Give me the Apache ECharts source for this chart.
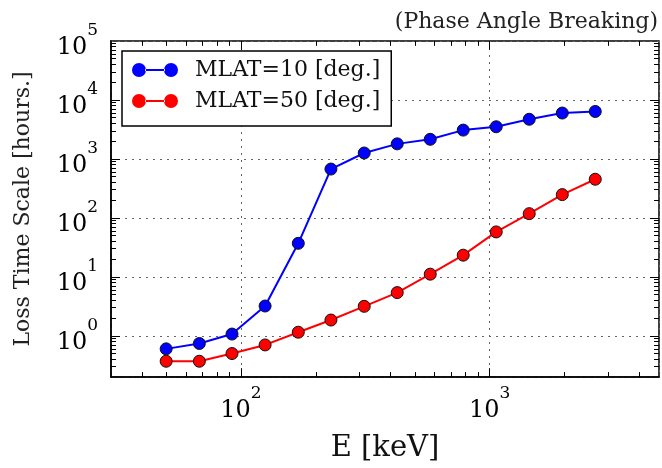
<!DOCTYPE html>
<html><head><meta charset="utf-8">
<script src="https://cdn.jsdelivr.net/npm/echarts@6/dist/echarts.min.js"></script>
<style>html,body{margin:0;padding:0;background:#fff}#c{width:662px;height:468px}</style>
</head><body><div id="c"></div>
<script>
// ---- data ----
const energies = [50, 68, 92, 125, 170, 230, 313, 425, 577, 783, 1063, 1443, 1960, 2660];
const mlat10 = [0.60, 0.74, 1.07, 3.2, 37, 673, 1260, 1800, 2150, 3080, 3510, 4700, 6000, 6380];
const mlat50 = [0.37, 0.37, 0.50, 0.70, 1.15, 1.85, 3.16, 5.4, 11.1, 23.3, 57.8, 118, 248, 452];
const seriesNames = ['MLAT=10 [deg.]', 'MLAT=50 [deg.]'];
const xMajorTicks = [100, 1000];
const yMajorTicks = [1, 10, 100, 1000, 10000];
const xMinorTicks = [40, 50, 60, 70, 80, 90, 200, 300, 400, 500, 600, 700, 800, 900, 2000, 3000, 4000];
const yMinorTicks = [0.3, 0.4, 0.5, 0.6, 0.7, 0.8, 0.9,
  2, 3, 4, 5, 6, 7, 8, 9, 20, 30, 40, 50, 60, 70, 80, 90,
  200, 300, 400, 500, 600, 700, 800, 900, 2000, 3000, 4000, 5000, 6000, 7000, 8000, 9000,
  20000, 30000, 40000, 50000, 60000, 70000, 80000, 90000];
const titleText = '(Phase Angle Breaking)';
const xName = 'E [keV]';
const yName = 'Loss Time Scale [hours.]';
const X_MIN = 30, X_MAX = 4800, Y_MIN = 0.2, Y_MAX = 100000;

const FONT = 'DejaVu Serif';
const chart = echarts.init(document.getElementById('c'), null, {renderer: 'canvas'});

function powLabel(v) {
  const e = Math.round(Math.log10(v));
  if (Math.abs(v - Math.pow(10, e)) > 1e-6 * v) return '';
  return '{b|10}{s|' + e + '}';
}
const richPow = {
  b: {fontFamily: FONT, fontSize: 24, color: '#000', lineHeight: 38, verticalAlign: 'bottom'},
  s: {fontFamily: FONT, fontSize: 17, color: '#000', lineHeight: 24, verticalAlign: 'top'}
};

// tick marks: short markLine segments on the frame edges (inside, all four sides).
// On log axes a constant ratio gives a constant pixel length.
const PLOT_W = 548, PLOT_H = 343;
function ratioFor(axis, px) {
  const decades = axis === 'x' ? Math.log10(X_MAX / X_MIN) : Math.log10(Y_MAX / Y_MIN);
  const size = axis === 'x' ? PLOT_W : PLOT_H;
  return Math.pow(10, px / size * decades);
}
function tickLines(axis, values, len) {
  const ry = ratioFor('y', len), rx = ratioFor('x', len);
  const segs = [];
  values.forEach(v => {
    if (axis === 'x') {
      segs.push([{coord: [v, Y_MIN]}, {coord: [v, Y_MIN * ry]}]);
      segs.push([{coord: [v, Y_MAX]}, {coord: [v, Y_MAX / ry]}]);
    } else {
      segs.push([{coord: [X_MIN, v]}, {coord: [X_MIN * rx, v]}]);
      segs.push([{coord: [X_MAX, v]}, {coord: [X_MAX / rx, v]}]);
    }
  });
  return segs;
}
const tickMarkLine = {
  silent: true, symbol: ['none', 'none'], animation: false,
  label: {show: false}, emphasis: {disabled: true},
  lineStyle: {color: '#000', width: 1, type: 'solid'},
  data: [].concat(
    tickLines('x', xMajorTicks, 9), tickLines('x', xMinorTicks, 5),
    tickLines('y', yMajorTicks, 9), tickLines('y', yMinorTicks, 5))
};

const iconPath = 'path://M0,7a7,7 0 1,0 14,0a7,7 0 1,0 -14,0Z M32,7a7,7 0 1,0 14,0a7,7 0 1,0 -14,0Z M13,6L33,6L33,8L13,8Z';

const gridLine = {show: true, lineStyle: {color: '#666', width: 1, type: [2, 5]}};

chart.setOption({
  animation: false,
  backgroundColor: '#fff',
  title: {
    text: titleText, right: 4, top: 11, padding: 0,
    textStyle: {fontFamily: FONT, fontSize: 22, fontWeight: 'normal', color: '#222'}
  },
  grid: {left: 111, top: 41, width: PLOT_W, height: PLOT_H, show: true, borderColor: '#000', borderWidth: 1.5, backgroundColor: 'transparent'},
  legend: {
    left: 122, top: 51, orient: 'vertical',
    data: [{name: seriesNames[0], icon: iconPath}, {name: seriesNames[1], icon: iconPath}],
    itemWidth: 46, itemHeight: 14, itemGap: 9,
    padding: [8, 11, 14, 10],
    backgroundColor: '#fff', borderColor: '#000', borderWidth: 1.5,
    textStyle: {fontFamily: FONT, fontSize: 22, color: '#111', padding: [0, 0, 0, 12]},
    itemStyle: {borderWidth: 0}
  },
  xAxis: {
    type: 'log', min: X_MIN, max: X_MAX, logBase: 10,
    name: xName, nameLocation: 'middle', nameGap: 57,
    nameTextStyle: {fontFamily: FONT, fontSize: 29, color: '#111'},
    axisLine: {show: true, lineStyle: {color: '#000', width: 1.5}},
    axisTick: {show: false},
    axisLabel: {formatter: powLabel, rich: richPow, margin: 8, showMinLabel: true, showMaxLabel: true},
    splitLine: gridLine,
    minorTick: {show: false}, minorSplitLine: {show: false}
  },
  yAxis: {
    type: 'log', min: Y_MIN, max: Y_MAX, logBase: 10,
    name: yName, nameLocation: 'middle', nameGap: 77,
    nameTextStyle: {fontFamily: FONT, fontSize: 22, color: '#222'},
    axisLine: {show: true, lineStyle: {color: '#000', width: 1.5}},
    axisTick: {show: false},
    axisLabel: {formatter: powLabel, rich: richPow, margin: 13},
    splitLine: gridLine
  },
  series: [
    {
      name: seriesNames[0], type: 'line', z: 3,
      data: energies.map((e, i) => [e, mlat10[i]]),
      symbol: 'circle', symbolSize: 12,
      lineStyle: {color: '#0000ff', width: 2},
      itemStyle: {color: '#0000ff', borderColor: '#111', borderWidth: 1},
      markLine: tickMarkLine
    },
    {
      name: seriesNames[1], type: 'line', z: 4,
      data: energies.map((e, i) => [e, mlat50[i]]),
      symbol: 'circle', symbolSize: 12,
      lineStyle: {color: '#ff0000', width: 2},
      itemStyle: {color: '#ff0000', borderColor: '#111', borderWidth: 1}
    }
  ]
});
</script>
</body></html>
